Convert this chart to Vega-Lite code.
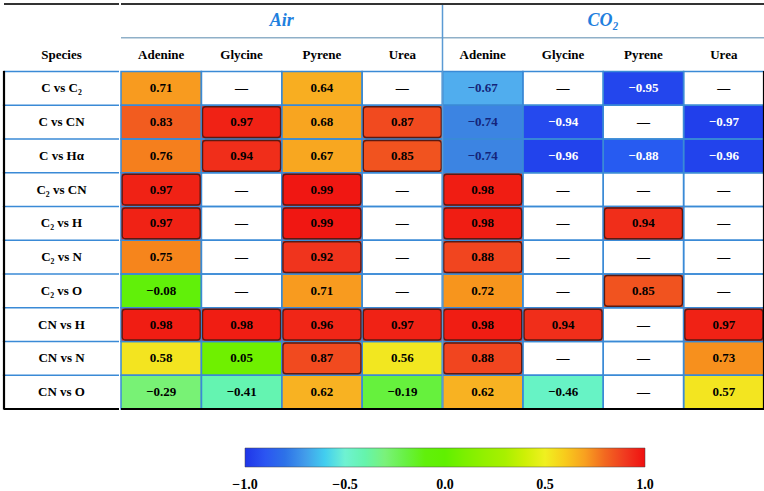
{
  "$schema": "https://vega.github.io/schema/vega-lite/v6.json",
  "background": "white",
  "padding": {"left": 2, "top": 3, "right": 4, "bottom": 0},
  "spacing": 0,
  "config": {"view": {"stroke": null}, "text": {"font": "Liberation Serif"}},
  "datasets": {
    "cells": [
      {"row": "C vs C₂", "col": "Air|Adenine", "v": 0.71},
      {"row": "C vs C₂", "col": "Air|Glycine", "v": null},
      {"row": "C vs C₂", "col": "Air|Pyrene", "v": 0.64},
      {"row": "C vs C₂", "col": "Air|Urea", "v": null},
      {"row": "C vs C₂", "col": "CO2|Adenine", "v": -0.67},
      {"row": "C vs C₂", "col": "CO2|Glycine", "v": null},
      {"row": "C vs C₂", "col": "CO2|Pyrene", "v": -0.95},
      {"row": "C vs C₂", "col": "CO2|Urea", "v": null},
      {"row": "C vs CN", "col": "Air|Adenine", "v": 0.83},
      {"row": "C vs CN", "col": "Air|Glycine", "v": 0.97},
      {"row": "C vs CN", "col": "Air|Pyrene", "v": 0.68},
      {"row": "C vs CN", "col": "Air|Urea", "v": 0.87},
      {"row": "C vs CN", "col": "CO2|Adenine", "v": -0.74},
      {"row": "C vs CN", "col": "CO2|Glycine", "v": -0.94},
      {"row": "C vs CN", "col": "CO2|Pyrene", "v": null},
      {"row": "C vs CN", "col": "CO2|Urea", "v": -0.97},
      {"row": "C vs Hα", "col": "Air|Adenine", "v": 0.76},
      {"row": "C vs Hα", "col": "Air|Glycine", "v": 0.94},
      {"row": "C vs Hα", "col": "Air|Pyrene", "v": 0.67},
      {"row": "C vs Hα", "col": "Air|Urea", "v": 0.85},
      {"row": "C vs Hα", "col": "CO2|Adenine", "v": -0.74},
      {"row": "C vs Hα", "col": "CO2|Glycine", "v": -0.96},
      {"row": "C vs Hα", "col": "CO2|Pyrene", "v": -0.88},
      {"row": "C vs Hα", "col": "CO2|Urea", "v": -0.96},
      {"row": "C₂ vs CN", "col": "Air|Adenine", "v": 0.97},
      {"row": "C₂ vs CN", "col": "Air|Glycine", "v": null},
      {"row": "C₂ vs CN", "col": "Air|Pyrene", "v": 0.99},
      {"row": "C₂ vs CN", "col": "Air|Urea", "v": null},
      {"row": "C₂ vs CN", "col": "CO2|Adenine", "v": 0.98},
      {"row": "C₂ vs CN", "col": "CO2|Glycine", "v": null},
      {"row": "C₂ vs CN", "col": "CO2|Pyrene", "v": null},
      {"row": "C₂ vs CN", "col": "CO2|Urea", "v": null},
      {"row": "C₂ vs H", "col": "Air|Adenine", "v": 0.97},
      {"row": "C₂ vs H", "col": "Air|Glycine", "v": null},
      {"row": "C₂ vs H", "col": "Air|Pyrene", "v": 0.99},
      {"row": "C₂ vs H", "col": "Air|Urea", "v": null},
      {"row": "C₂ vs H", "col": "CO2|Adenine", "v": 0.98},
      {"row": "C₂ vs H", "col": "CO2|Glycine", "v": null},
      {"row": "C₂ vs H", "col": "CO2|Pyrene", "v": 0.94},
      {"row": "C₂ vs H", "col": "CO2|Urea", "v": null},
      {"row": "C₂ vs N", "col": "Air|Adenine", "v": 0.75},
      {"row": "C₂ vs N", "col": "Air|Glycine", "v": null},
      {"row": "C₂ vs N", "col": "Air|Pyrene", "v": 0.92},
      {"row": "C₂ vs N", "col": "Air|Urea", "v": null},
      {"row": "C₂ vs N", "col": "CO2|Adenine", "v": 0.88},
      {"row": "C₂ vs N", "col": "CO2|Glycine", "v": null},
      {"row": "C₂ vs N", "col": "CO2|Pyrene", "v": null},
      {"row": "C₂ vs N", "col": "CO2|Urea", "v": null},
      {"row": "C₂ vs O", "col": "Air|Adenine", "v": -0.08},
      {"row": "C₂ vs O", "col": "Air|Glycine", "v": null},
      {"row": "C₂ vs O", "col": "Air|Pyrene", "v": 0.71},
      {"row": "C₂ vs O", "col": "Air|Urea", "v": null},
      {"row": "C₂ vs O", "col": "CO2|Adenine", "v": 0.72},
      {"row": "C₂ vs O", "col": "CO2|Glycine", "v": null},
      {"row": "C₂ vs O", "col": "CO2|Pyrene", "v": 0.85},
      {"row": "C₂ vs O", "col": "CO2|Urea", "v": null},
      {"row": "CN vs H", "col": "Air|Adenine", "v": 0.98},
      {"row": "CN vs H", "col": "Air|Glycine", "v": 0.98},
      {"row": "CN vs H", "col": "Air|Pyrene", "v": 0.96},
      {"row": "CN vs H", "col": "Air|Urea", "v": 0.97},
      {"row": "CN vs H", "col": "CO2|Adenine", "v": 0.98},
      {"row": "CN vs H", "col": "CO2|Glycine", "v": 0.94},
      {"row": "CN vs H", "col": "CO2|Pyrene", "v": null},
      {"row": "CN vs H", "col": "CO2|Urea", "v": 0.97},
      {"row": "CN vs N", "col": "Air|Adenine", "v": 0.58},
      {"row": "CN vs N", "col": "Air|Glycine", "v": 0.05},
      {"row": "CN vs N", "col": "Air|Pyrene", "v": 0.87},
      {"row": "CN vs N", "col": "Air|Urea", "v": 0.56},
      {"row": "CN vs N", "col": "CO2|Adenine", "v": 0.88},
      {"row": "CN vs N", "col": "CO2|Glycine", "v": null},
      {"row": "CN vs N", "col": "CO2|Pyrene", "v": null},
      {"row": "CN vs N", "col": "CO2|Urea", "v": 0.73},
      {"row": "CN vs O", "col": "Air|Adenine", "v": -0.29},
      {"row": "CN vs O", "col": "Air|Glycine", "v": -0.41},
      {"row": "CN vs O", "col": "Air|Pyrene", "v": 0.62},
      {"row": "CN vs O", "col": "Air|Urea", "v": -0.19},
      {"row": "CN vs O", "col": "CO2|Adenine", "v": 0.62},
      {"row": "CN vs O", "col": "CO2|Glycine", "v": -0.46},
      {"row": "CN vs O", "col": "CO2|Pyrene", "v": null},
      {"row": "CN vs O", "col": "CO2|Urea", "v": 0.57}
    ],
    "species": [
      {"row": "h2", "c": "Species", "label": "Species"},
      {"row": "C vs C₂", "c": "Species", "label": "C vs C₂"},
      {"row": "C vs CN", "c": "Species", "label": "C vs CN"},
      {"row": "C vs Hα", "c": "Species", "label": "C vs Hα"},
      {"row": "C₂ vs CN", "c": "Species", "label": "C₂ vs CN"},
      {"row": "C₂ vs H", "c": "Species", "label": "C₂ vs H"},
      {"row": "C₂ vs N", "c": "Species", "label": "C₂ vs N"},
      {"row": "C₂ vs O", "c": "Species", "label": "C₂ vs O"},
      {"row": "CN vs H", "c": "Species", "label": "CN vs H"},
      {"row": "CN vs N", "c": "Species", "label": "CN vs N"},
      {"row": "CN vs O", "c": "Species", "label": "CN vs O"}
    ],
    "headers": [
      {"row": "h2", "col": "Air|Adenine", "label": "Adenine"},
      {"row": "h2", "col": "Air|Glycine", "label": "Glycine"},
      {"row": "h2", "col": "Air|Pyrene", "label": "Pyrene"},
      {"row": "h2", "col": "Air|Urea", "label": "Urea"},
      {"row": "h2", "col": "CO2|Adenine", "label": "Adenine"},
      {"row": "h2", "col": "CO2|Glycine", "label": "Glycine"},
      {"row": "h2", "col": "CO2|Pyrene", "label": "Pyrene"},
      {"row": "h2", "col": "CO2|Urea", "label": "Urea"}
    ],
    "groups": [
      {"row": "h1", "col": "Air|Pyrene", "label": "Air"},
      {"row": "h1", "col": "CO2|Pyrene", "label": "CO₂"}
    ],
    "toprow": [{"row": "h1", "col": "CO2|Adenine"}],
    "subrow": [{"row": "h2"}],
    "lastrow": [{"row": "CN vs O"}]
  },
  "hconcat": [
    {
      "width": 115,
      "height": 405,
      "layer": [
        {
          "data": {"name": "species"},
          "transform": [{"filter": "datum.row !== 'h2'"}],
          "mark": {"type": "rule", "color": "#3a8ad6", "strokeWidth": 1.5},
          "encoding": {
            "y": {"field": "row", "type": "nominal", "axis": null, "bandPosition": 0, "sort": null,
                  "scale": {"domain": ["h1", "h2", "C vs C₂", "C vs CN", "C vs Hα", "C₂ vs CN", "C₂ vs H", "C₂ vs N", "C₂ vs O", "CN vs H", "CN vs N", "CN vs O"], "paddingInner": 0, "paddingOuter": 0}}
          }
        },
        {
          "data": {"name": "species"},
          "transform": [{"filter": "datum.row !== 'h2'"}],
          "mark": {"type": "tick", "orient": "vertical", "color": "black", "size": 35, "thickness": 2.2, "opacity": 1},
          "encoding": {
            "x": {"field": "c", "type": "nominal", "axis": null, "bandPosition": 0,
                  "scale": {"paddingInner": 0, "paddingOuter": 0}},
            "y": {"field": "row", "type": "nominal", "axis": null}
          }
        },
        {
          "data": {"name": "toprow"},
          "mark": {"type": "rule", "color": "#333333", "strokeWidth": 2},
          "encoding": {
            "y": {"field": "row", "type": "nominal", "axis": null, "bandPosition": 0}
          }
        },
        {
          "data": {"name": "lastrow"},
          "mark": {"type": "rule", "color": "black", "strokeWidth": 2},
          "encoding": {"y": {"field": "row", "type": "nominal", "axis": null, "bandPosition": 1}}
        },
        {
          "data": {"name": "species"},
          "mark": {"type": "text", "fontSize": 13, "fontWeight": "bold", "color": "black", "baseline": "middle"},
          "encoding": {
            "x": {"field": "c", "type": "nominal", "axis": null},
            "y": {"field": "row", "type": "nominal", "axis": null},
            "text": {"field": "label", "type": "nominal"}
          }
        }
      ]
    },
    {
      "width": 643,
      "height": 405,
      "layer": [
        {
          "data": {"name": "cells"},
          "transform": [{"filter": "datum.v !== null"}],
          "mark": {"type": "rect"},
          "encoding": {
            "x": {"field": "col", "type": "nominal", "axis": null, "sort": null,
                  "scale": {"domain": ["Air|Adenine", "Air|Glycine", "Air|Pyrene", "Air|Urea", "CO2|Adenine", "CO2|Glycine", "CO2|Pyrene", "CO2|Urea"], "paddingInner": 0, "paddingOuter": 0}},
            "y": {"field": "row", "type": "nominal", "axis": null, "sort": null,
                  "scale": {"domain": ["h1", "h2", "C vs C₂", "C vs CN", "C vs Hα", "C₂ vs CN", "C₂ vs H", "C₂ vs N", "C₂ vs O", "CN vs H", "CN vs N", "CN vs O"], "paddingInner": 0, "paddingOuter": 0}},
            "color": {
              "field": "v", "type": "quantitative",
              "scale": {
                "domain": [-1, -0.9, -0.75, -0.65, -0.5, -0.3, -0.15, 0, 0.3, 0.5, 0.58, 0.62, 0.7, 0.8, 0.9, 1],
                "range": ["#1f35e8", "#2b55f2", "#3d7ee0", "#5cb8f0", "#6ff2d2", "#7af27a", "#62f010", "#60f000", "#a8f000", "#f0f020", "#f3e420", "#f8b222", "#f8a020", "#f26820", "#f03a20", "#f01010"]
              },
              "legend": {
                "orient": "none", "legendX": 241, "legendY": 444, "direction": "horizontal",
                "gradientLength": 400, "gradientThickness": 19, "title": null,
                "values": [-1, -0.5, 0, 0.5, 1], "format": ".1f",
                "labelFont": "Liberation Serif", "labelFontSize": 14, "labelFontWeight": "bold",
                "labelColor": "black", "labelOffset": 11, "labelAlign": "center",
                "gradientStrokeColor": "#444444", "gradientStrokeWidth": 0.5, "padding": 0,
                "encode": {"labels": {"update": {"align": {"value": "center"}}}}
              }
            }
          }
        },
        {
          "data": {"name": "cells"},
          "mark": {"type": "rect", "fill": "transparent", "stroke": "#3a8ad6", "strokeWidth": 1.5},
          "encoding": {
            "x": {"field": "col", "type": "nominal", "axis": null},
            "y": {"field": "row", "type": "nominal", "axis": null}
          }
        },
        {
          "data": {"name": "cells"},
          "transform": [{"filter": "datum.v !== null && datum.v >= 0.84"}],
          "mark": {"type": "rect", "fill": "transparent", "stroke": "#5a1a12", "strokeWidth": 1.3, "cornerRadius": 3, "width": {"band": 0.97}, "height": {"band": 0.91}},
          "encoding": {
            "x": {"field": "col", "type": "nominal", "axis": null},
            "y": {"field": "row", "type": "nominal", "axis": null}
          }
        },
        {
          "data": {"name": "cells"},
          "transform": [{"filter": "datum.col === 'CO2|Urea'"}],
          "mark": {"type": "tick", "orient": "vertical", "color": "black", "size": 35, "thickness": 2.2, "opacity": 1},
          "encoding": {
            "x": {"field": "col", "type": "nominal", "axis": null, "bandPosition": 1},
            "y": {"field": "row", "type": "nominal", "axis": null}
          }
        },
        {
          "data": {"name": "cells"},
          "mark": {"type": "text", "fontSize": 13, "fontWeight": "bold", "baseline": "middle"},
          "encoding": {
            "x": {"field": "col", "type": "nominal", "axis": null},
            "y": {"field": "row", "type": "nominal", "axis": null},
            "text": {"condition": {"test": "datum.v === null", "value": "—"}, "field": "v", "type": "quantitative", "format": ".2f"},
            "color": {"condition": [
              {"test": "datum.v !== null && datum.v < -0.85", "value": "white"},
              {"test": "datum.v !== null && datum.v < -0.6", "value": "#14247a"}
            ], "value": "black"}
          }
        },
        {
          "data": {"name": "headers"},
          "mark": {"type": "text", "fontSize": 13, "fontWeight": "bold", "baseline": "middle", "color": "black"},
          "encoding": {
            "x": {"field": "col", "type": "nominal", "axis": null},
            "y": {"field": "row", "type": "nominal", "axis": null},
            "text": {"field": "label", "type": "nominal"}
          }
        },
        {
          "data": {"name": "groups"},
          "mark": {"type": "text", "fontSize": 18, "fontStyle": "italic", "fontWeight": "bold", "baseline": "middle", "color": "#1f80de"},
          "encoding": {
            "x": {"field": "col", "type": "nominal", "axis": null, "bandPosition": 0},
            "y": {"field": "row", "type": "nominal", "axis": null},
            "text": {"field": "label", "type": "nominal"}
          }
        },
        {
          "data": {"name": "subrow"},
          "mark": {"type": "rule", "color": "#8fb0c8", "strokeWidth": 1.5},
          "encoding": {"y": {"field": "row", "type": "nominal", "axis": null, "bandPosition": 0}}
        },
        {
          "data": {"name": "toprow"},
          "mark": {"type": "rule", "color": "#5a9ad4", "strokeWidth": 1.5},
          "encoding": {"x": {"field": "col", "type": "nominal", "axis": null, "bandPosition": 0}}
        },
        {
          "data": {"name": "toprow"},
          "mark": {"type": "rule", "color": "#333333", "strokeWidth": 2},
          "encoding": {"y": {"field": "row", "type": "nominal", "axis": null, "bandPosition": 0}}
        },
        {
          "data": {"name": "lastrow"},
          "mark": {"type": "rule", "color": "black", "strokeWidth": 2},
          "encoding": {"y": {"field": "row", "type": "nominal", "axis": null, "bandPosition": 1}}
        }
      ]
    }
  ]
}
